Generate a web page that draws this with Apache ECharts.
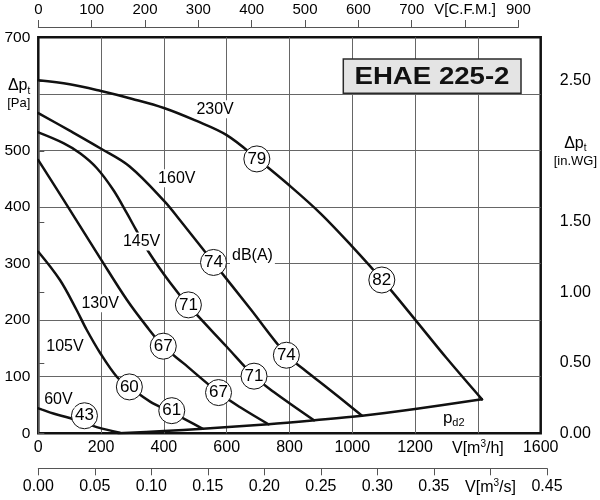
<!DOCTYPE html>
<html>
<head>
<meta charset="utf-8">
<script src="https://cdn.jsdelivr.net/npm/echarts@6/dist/echarts.min.js"></script>
<style>html,body{margin:0;padding:0;background:#fff}#c{width:600px;height:500px}</style>
</head>
<body>
<div id="c"></div>
<script>
// ---- data ----
const xTicksM3h = [0, 200, 400, 600, 800, 1000, 1200, 1400, 1600];
const curve230 = [[0,624],[100,617],[200,605],[300,591],[400,575],[500,553],[600,527],[700,484],[800,438],[900,388],[1000,330],[1100,268],[1200,201],[1300,133],[1413,60]];
const curve160 = [[0,566],[100,535],[200,503],[290,472],[402,410],[452,376],[558,302],[675,220],[790,139],[850,111],[908,86],[1031,31]];
const curve145 = [[0,532],[80,513],[133,495],[186,469],[239,430],[282,389],[311,360],[351,321],[420,266],[478,226],[600,153],[687,101],[750,73],[878,23]];
const curve130 = [[0,483],[80,413],[200,307],[282,236],[345,189],[398,154],[462,124],[574,72],[643,46],[733,16]];
const curve105 = [[0,321],[69,271],[122,218],[154,183],[197,142],[250,100],[290,82],[356,56],[425,37],[524,8]];
const curve60  = [[0,44],[48,35],[100,27],[186,11],[260,1]];
const curvePd2 = [[255,0],[400,4],[524,8],[733,16],[880,23],[1031,31],[1200,43],[1413,60]];
const soundLevels = [['79',696,485],['82',1094,271],['74',558,302],['74',790,138],['71',478,227],['71',687,101],['67',398,154],['67',574,72],['60',290,82],['61',425,40],['43',147,31]];
const curveLabels = [['230V',563,573],['160V',441,451],['145V',329,339],['130V',197,230],['105V',85,154],['60V',64,60],['dB(A)',682,314]];
const pd2Label = [1323, 26];
const title = 'EHAE 225-2';
const CFM_PER_M3H = 1 / 1.699;   // m3/h -> CFM
const PA_PER_INWG = 249.09;

// ---- layout ----
const F = '"Liberation Sans", Arial, sans-serif';
const TXT = '#000';
const L = 38.3, R = 540.7, T = 37.3, B = 433.3;
const W = R - L, H = B - T;
const inwgH = H * (2.5 * PA_PER_INWG) / 700;

const rich = {
  u: {fontSize: 16, fontFamily: F, color: TXT, lineHeight: 18},
  sup: {fontSize: 10, fontFamily: F, color: TXT, verticalAlign: 'top', lineHeight: 12},
  d: {fontSize: 16, fontFamily: F, color: TXT, lineHeight: 20},
  sub: {fontSize: 10, fontFamily: F, color: TXT, verticalAlign: 'bottom', lineHeight: 8},
  b: {fontSize: 13, fontFamily: F, color: TXT, lineHeight: 16}
};

const chart = echarts.init(document.getElementById('c'), null, {renderer: 'canvas'});

function lineSeries(data) {
  return {type: 'line', xAxisIndex: 0, yAxisIndex: 0, data: data, showSymbol: false,
    smooth: 0.35, silent: true, z: 2,
    lineStyle: {color: '#111', width: 2.5, cap: 'round', join: 'round'}};
}

const option = {
  animation: false,
  backgroundColor: '#fff',
  textStyle: {fontFamily: F},
  grid: [
    {left: L, top: T, width: W, height: H, show: true, borderColor: '#111', borderWidth: 2.5, backgroundColor: 'transparent'},
    {left: L, top: 26, width: W * (900 / CFM_PER_M3H) / 1600, height: 1},
    {left: L, top: 467.3, width: W * (0.45 * 3600) / 1600, height: 1},
    {left: L, top: B - inwgH, width: W, height: inwgH}
  ],
  xAxis: [
    {gridIndex: 0, type: 'value', min: 0, max: 1600, interval: 200,
      axisLine: {show: false}, axisTick: {show: false},
      splitLine: {show: true, showMinLine: false, showMaxLine: false, lineStyle: {color: '#666', width: 1}},
      axisLabel: {margin: 6, fontSize: 16, color: TXT, fontFamily: F, rich: rich,
        formatter: v => v === 1400 ? '{u|V[m}{sup|3}{u|/h]}' : String(v)}},
    {gridIndex: 1, type: 'value', position: 'top', min: 0, max: 900, interval: 100,
      axisLine: {show: true, lineStyle: {color: '#555', width: 1}},
      axisTick: {show: true, length: 7, lineStyle: {color: '#555'}},
      splitLine: {show: false},
      axisLabel: {margin: 9, fontSize: 15, color: TXT, fontFamily: F,
        formatter: v => v === 800 ? 'V[C.F.M.]' : String(v)}},
    {gridIndex: 2, type: 'value', position: 'bottom', min: 0, max: 0.45, interval: 0.05,
      axisLine: {show: true, lineStyle: {color: '#555', width: 1}},
      axisTick: {show: true, length: 7, lineStyle: {color: '#555'}},
      splitLine: {show: false},
      axisLabel: {margin: 10, fontSize: 16, color: TXT, fontFamily: F, rich: rich,
        formatter: v => v.toFixed(2) === '0.40' ? '{u|V[m}{sup|3}{u|/s]}' : v.toFixed(2)}},
    {gridIndex: 3, type: 'value', show: false, min: 0, max: 1600}
  ],
  yAxis: [
    {gridIndex: 0, type: 'value', min: 0, max: 700, interval: 100,
      axisLine: {show: false}, axisTick: {show: false},
      splitLine: {show: true, showMinLine: false, showMaxLine: false, lineStyle: {color: '#666', width: 1}},
      axisLabel: {margin: 8, fontSize: 15.5, color: TXT, fontFamily: F, rich: rich,
        formatter: v => v === 600 ? '{d|Δp}{sub|t}\n{b|[Pa]}' : String(v)}},
    {gridIndex: 1, type: 'value', show: false},
    {gridIndex: 2, type: 'value', show: false},
    {gridIndex: 3, type: 'value', position: 'right', offset: 10.5, min: 0, max: 2.5, interval: 0.5,
      axisLine: {show: true, lineStyle: {color: '#555', width: 1}},
      axisTick: {show: true, length: 6, lineStyle: {color: '#555'}},
      splitLine: {show: false},
      axisLabel: {margin: 26, align: 'center', fontSize: 16, color: TXT, fontFamily: F, rich: rich,
        formatter: v => v === 2 ? '{d|Δp}{sub|t}\n{b|[in.WG]}' : v.toFixed(2)}}
  ],
  series: [
    lineSeries(curve230), lineSeries(curve160), lineSeries(curve145),
    lineSeries(curve130), lineSeries(curve105), lineSeries(curve60), lineSeries(curvePd2),
    {type: 'scatter', xAxisIndex: 0, yAxisIndex: 0, silent: true, z: 4,
      data: soundLevels.map(s => ({name: s[0], value: [s[1], s[2]]})),
      symbol: 'circle', symbolSize: 26,
      itemStyle: {color: '#fff', borderColor: '#111', borderWidth: 1, opacity: 1},
      label: {show: true, position: 'inside', formatter: p => p.name, fontSize: 17, color: '#000', fontFamily: F}},
    {type: 'scatter', xAxisIndex: 0, yAxisIndex: 0, silent: true, z: 5,
      data: curveLabels.map(s => ({name: s[0], value: [s[1], s[2]]})),
      symbol: 'circle', symbolSize: 1, itemStyle: {color: '#fff', opacity: 1},
      label: {show: true, position: 'inside', formatter: p => p.name, fontSize: 16, color: '#000', fontFamily: F,
        backgroundColor: '#fff', padding: [1, 2], opacity: 1}},
    {type: 'scatter', xAxisIndex: 0, yAxisIndex: 0, silent: true, z: 5,
      data: [{name: 'pd2', value: pd2Label}],
      symbol: 'circle', symbolSize: 1, itemStyle: {color: '#fff', opacity: 1},
      label: {show: true, position: 'inside', formatter: '{d|p}{sub|d2}', rich: {
        d: {fontSize: 17, fontFamily: F, color: '#000', lineHeight: 20},
        sub: {fontSize: 11, fontFamily: F, color: '#000', verticalAlign: 'bottom', lineHeight: 9}}}}
  ],
  graphic: [
    {type: 'rect', shape: {x: 343.3, y: 59, width: 177.7, height: 34.3}, z: 10,
      style: {fill: '#e4e4e4', stroke: '#2a2a2a', lineWidth: 1.5}},
    {type: 'text', x: 432, y: 77, scaleX: 1.15, z: 11,
      style: {text: title, font: 'bold 24px ' + F, fill: '#111', textAlign: 'center', textVerticalAlign: 'middle'}}
  ]
};
chart.setOption(option);
</script>
</body>
</html>
